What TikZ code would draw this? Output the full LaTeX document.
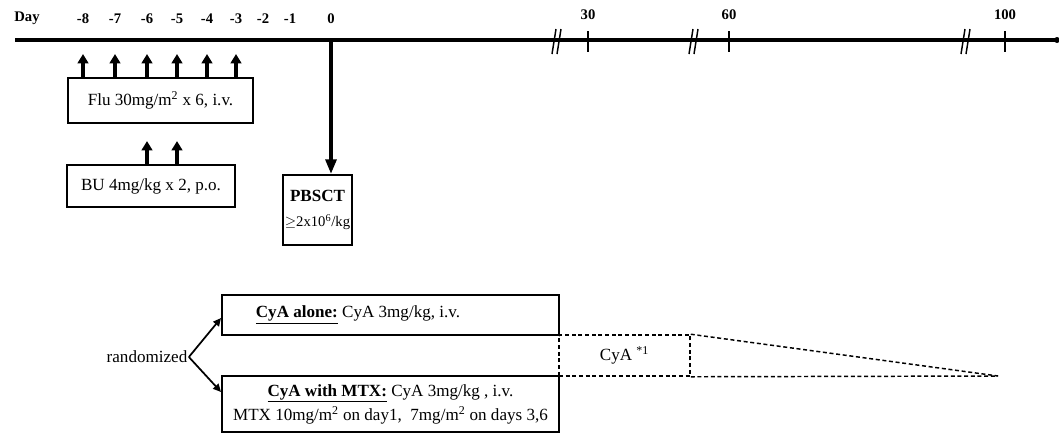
\documentclass[tikz,border=0pt]{standalone}
\usepackage{fontspec}
\setmainfont{Liberation Serif}
\usetikzlibrary{arrows.meta,positioning,calc}
\tikzset{
  dosebox/.style={
    rectangle, draw=black, line width=1.4pt,
    font=\fontsize{12.8}{18}\selectfont, align=center,
    inner sep=1pt
  },
  daylabel/.style={font=\fontsize{11}{13}\selectfont\bfseries, inner sep=1pt},
  doseup/.style={
    -{Triangle[length=7pt,width=8pt]}, line width=2.4pt
  },
  splitarrow/.style={
    -{Triangle[length=6pt,width=5.5pt]}, line width=1.3pt
  },
  taperline/.style={line width=1.1pt, dash pattern=on 3pt off 2pt},
  breakmark/.style={line width=1.1pt},
}
\begin{document}
\begin{tikzpicture}[x=0.75pt, y=-0.75pt]
  \useasboundingbox (0,0) rectangle (1059,436);
  % time axis
  \coordinate (axL) at (15,40);
  \coordinate (axR) at (1057,40);
  \draw[line width=2.4pt] (axL) -- (axR);
  \fill (axR) circle (3);
  \node[daylabel] (day) at (27,18) {Day};
  \foreach \d/\x in {-8/83,-7/115,-6/147,-5/177,-4/207,-3/236,-2/263,-1/290,0/331} {
    \node[daylabel] (lab\d) at (\x,19) {\d};
    \coordinate (d\d) at (\x,40);
  }
  \foreach \d/\x in {30/588,60/729,100/1005} {
    \coordinate (d\d) at (\x,40);
    \draw[line width=1.2pt] ($(d\d)+(0,-9)$) -- ($(d\d)+(0,12)$);
    \node[daylabel] (lab\d) at (\x,15) {\d};
  }
  \foreach \b in {556,693,965} {
    \draw[breakmark] (\b-4,54) -- (\b,29);
    \draw[breakmark] (\b+1,54) -- (\b+5,29);
  }

  % conditioning
  \node[dosebox, minimum width=138.8pt, minimum height=33.8pt] (flu) at (160.5,100.5)
    {Flu 30mg/m\textsuperscript{2} x 6, i.v.};
  \foreach \d in {-8,-7,-6,-5,-4,-3} { \draw[doseup] (flu.north -| d\d) -- ++(0,-23); }
  \node[dosebox, minimum width=126pt, minimum height=31.5pt] (bu) at (151,186)
    {BU 4mg/kg x 2, p.o.};
  \foreach \d in {-6,-5} { \draw[doseup] (bu.north -| d\d) -- ++(0,-23); }

  % transplant
  \node[dosebox, minimum width=51.8pt, minimum height=52.5pt, inner sep=0pt] (pbsct) at (317.5,210)
    {\textbf{PBSCT}\\[1pt]{\fontsize{11}{13}\selectfont$\geq$2x10\textsuperscript{6}/kg}};
  \draw[-{Triangle[length=11pt,width=8pt]}, line width=3.2pt] (d0) -- (pbsct.north -| d0);

  % GVHD prophylaxis
  \node[font=\fontsize{12.8}{15}\selectfont, inner sep=1pt] (rand) at (147,357) {randomized};
  \node[dosebox, minimum width=252.8pt, minimum height=30pt] (alone) at (390.5,315) {};
  \node[font=\fontsize{12.8}{15}\selectfont, inner sep=0pt] (alonetxt) at (358,315)
    {\underline{\textbf{CyA alone:}} CyA 3mg/kg, i.v.};
  \node[dosebox, minimum width=252.8pt, minimum height=42pt] (mtx) at (390.5,404)
    {\underline{\textbf{CyA with MTX:}} CyA 3mg/kg , i.v.\\
     MTX 10mg/m\textsuperscript{2} on day1,\ \ 7mg/m\textsuperscript{2} on days 3,6};
  \draw[splitarrow] (rand.east) -- (alone.west |- 0,318);
  \draw[splitarrow] (rand.east) -- (mtx.west |- 0,392);

  % tapering
  \node[draw, taperline, minimum width=98.3pt, minimum height=30.8pt,
        font=\fontsize{12.8}{15}\selectfont] (cya) at (624.5,355.5) {CyA \textsuperscript{*1}};
  \coordinate (taperend) at (998,376);
  \draw[taperline] (alone.south east) -- (cya.north west);
  \draw[taperline] (cya.north east) -- (taperend);
  \draw[taperline] (cya.south east) -- (taperend);
\end{tikzpicture}
\end{document}
